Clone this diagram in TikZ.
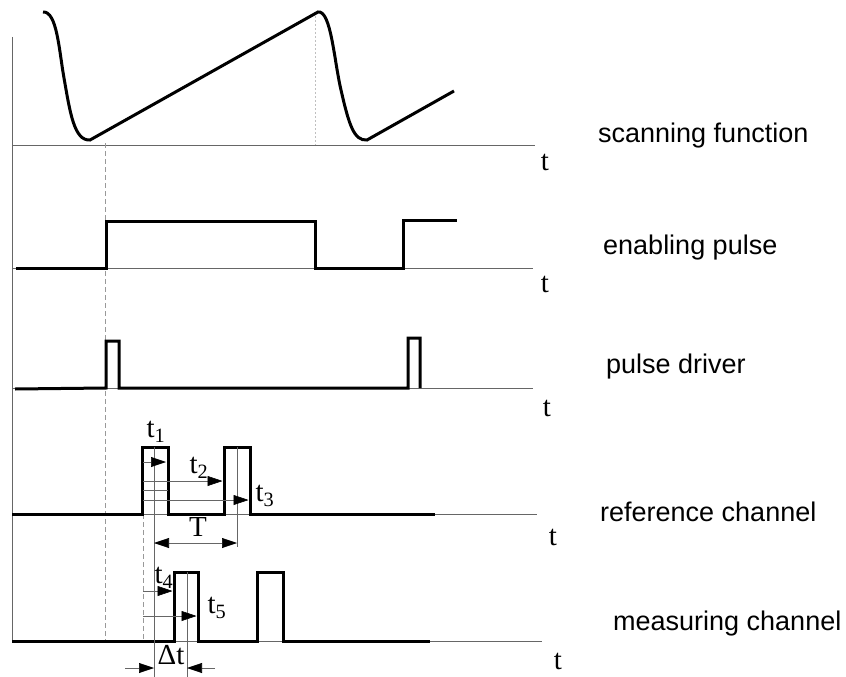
\documentclass[tikz,border=0pt]{standalone}
\usepackage{fontspec}
\setmainfont{Liberation Serif}
\setsansfont{Liberation Sans}
\usetikzlibrary{arrows.meta}

\tikzstyle{trace}    = [line width=3pt, black]
\tikzstyle{axisline} = [line width=0.9pt, black!60]
\tikzstyle{guide}    = [line width=0.7pt, black!40, dash pattern=on 5pt off 3pt]
\tikzstyle{dotguide} = [line width=0.9pt, black!25, dash pattern=on 2pt off 2pt]
\tikzstyle{helpline} = [line width=0.6pt, black!60]
\tikzstyle{delay}    = [helpline, -{Triangle[length=15pt,width=10pt,black]}]
\tikzstyle{spanline} = [helpline, {Triangle[length=15pt,width=10pt,black]}-{Triangle[length=15pt,width=10pt,black]}]
\tikzstyle{chlabel}  = [font=\sffamily\fontsize{27}{32}\selectfont, anchor=base west, inner sep=0pt]
\tikzstyle{tlabel}   = [font=\fontsize{29}{34}\selectfont, inner sep=0pt]

\begin{document}
\begin{tikzpicture}[x=1pt, y=-1pt]
        \useasboundingbox (0,0) rectangle (846,677);
        % time axes
        \coordinate (top)    at (12,37);
        \coordinate (origin) at (12,642);
        \coordinate (scanend) at (535,145);
        \coordinate (enend)   at (533,268);
        \coordinate (drvend)  at (533,388);
        \coordinate (refend)  at (537,514);
        \coordinate (measend) at (542,641);
        \draw[axisline] (top) -- (origin);
        \draw[axisline] (12,145) -- (scanend);
        \draw[axisline] (12,268) -- (enend);
        \draw[axisline] (12,388) -- (drvend);
        \draw[axisline] (12,514) -- (refend);
        \draw[axisline] (12,641) -- (measend);
        \node (tscan) [tlabel] at (545,162) {t};
        \node (ten)   [tlabel] at (545,284) {t};
        \node (tdrv)  [tlabel] at (547,408) {t};
        \node (tref)  [tlabel] at (553,537) {t};
        \node (tmeas) [tlabel] at (558,661) {t};
        % channel names
        \node (scan) [chlabel] at (598,142) {scanning function};
        \node (en)   [chlabel] at (603,254) {enabling pulse};
        \node (drv)  [chlabel] at (606,373) {pulse driver};
        \node (ref)  [chlabel] at (600,521) {reference channel};
        \node (meas) [chlabel] at (613,630) {measuring channel};
        % guide lines
        \draw[guide]    (105,143) -- (105,641);
        \draw[dotguide] (315,12)  -- (315,145);
        \draw[guide]    (143,514) -- (143,641);
        % signals
        \draw[trace] (43,12) .. controls (57,11) and (59,50) .. (64,78)
                     .. controls (70,112) and (74,141) .. (90,140) -- (318,12)
                     .. controls (331,10) and (334,60) .. (341,90)
                     .. controls (349,125) and (354,141) .. (367,140) -- (454,91);
        \draw[trace] (16,268) -| (106,221) -| (315,268) -- (403,268) |- (457,220);
        \draw[trace] (15,389) -- (106,388) |- (119,341) |- (408,388) |- (420,338) -- (420,388);
        \draw[trace] (12,514) -| (142,447) -| (168,514) -| (224,447) -| (250,514) -- (435,514);
        \draw[trace] (12,641) -| (174,572) -| (198,641) -| (257,572) -| (283,641) -- (430,641);
        % time intervals
        \coordinate (tstart) at (154,447);
        \coordinate (tstop)  at (237,447);
        \coordinate (dtstop) at (187,572);
        \draw[helpline] (tstart) -- (154,677);
        \draw[helpline] (tstop)  -- (237,547);
        \draw[helpline] (dtstop) -- (187,677);
        \draw[delay] (143,462) -- (166,462);
        \draw[delay] (143,481) -- (222.5,481);
        \draw[helpline] (143,490) -- (168,490);
        \draw[delay] (143,500) -- (248.5,500);
        \draw[spanline] (154,543) -- (237,543);
        \draw[delay] (143,591) -- (172.5,591);
        \draw[delay] (143,616) -- (196.5,616);
        \draw[delay] (125,668) -- (154,668);
        \draw[delay] (215,668) -- (187,668);
        \node (t1) [tlabel] at (156,432) {t\textsubscript{1}};
        \node (t2) [tlabel] at (199,468) {t\textsubscript{2}};
        \node (t3) [tlabel] at (265,496) {t\textsubscript{3}};
        \node (T)  [tlabel] at (198,527) {T};
        \node (t4) [tlabel] at (164,578) {t\textsubscript{4}};
        \node (t5) [tlabel] at (217,608) {t\textsubscript{5}};
        \node (dt) [tlabel] at (171,655) {Δt};
\end{tikzpicture}
\end{document}
